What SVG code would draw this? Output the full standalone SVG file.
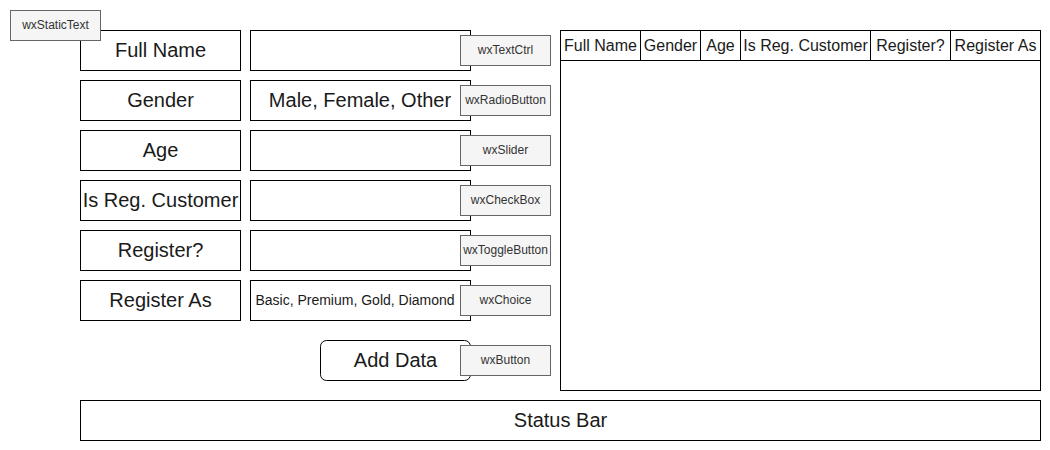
<svg xmlns="http://www.w3.org/2000/svg" width="1050" height="450" viewBox="0 0 1050 450">
<style>
.box{fill:#fff;stroke:#000;stroke-width:1}
.tag{fill:#f5f5f5;stroke:#666;stroke-width:1}
.t20{font-family:"Liberation Sans",Arial,sans-serif;font-size:20px;fill:#1a1a1a;text-anchor:middle;dominant-baseline:central}
.t16{font-family:"Liberation Sans",Arial,sans-serif;font-size:16px;fill:#1a1a1a;text-anchor:middle;dominant-baseline:central}
.t14{font-family:"Liberation Sans",Arial,sans-serif;font-size:14px;fill:#1a1a1a;text-anchor:middle;dominant-baseline:central}
.t12{font-family:"Liberation Sans",Arial,sans-serif;font-size:12px;fill:#333;text-anchor:middle;dominant-baseline:central}
</style>
<rect width="1050" height="450" fill="#fff"/>
<g id="lbl-fullname"><rect class="box" x="80.5" y="30.5" width="160" height="40"/><text class="t20" x="160.5" y="50">Full Name</text></g>
<g id="lbl-gender"><rect class="box" x="80.5" y="80.5" width="160" height="40"/><text class="t20" x="160.5" y="100">Gender</text></g>
<g id="lbl-age"><rect class="box" x="80.5" y="130.5" width="160" height="40"/><text class="t20" x="160.5" y="150">Age</text></g>
<g id="lbl-isreg"><rect class="box" x="80.5" y="180.5" width="160" height="40"/><text class="t20" x="160.5" y="200">Is Reg. Customer</text></g>
<g id="lbl-register"><rect class="box" x="80.5" y="230.5" width="160" height="40"/><text class="t20" x="160.5" y="250">Register?</text></g>
<g id="lbl-registeras"><rect class="box" x="80.5" y="280.5" width="160" height="40"/><text class="t20" x="160.5" y="300">Register As</text></g>
<g id="in-fullname"><rect class="box" x="250.5" y="30.5" width="220" height="40"/></g>
<g id="in-gender"><rect class="box" x="250.5" y="80.5" width="220" height="40"/><text class="t20" x="360" y="100">Male, Female, Other</text></g>
<g id="in-age"><rect class="box" x="250.5" y="130.5" width="220" height="40"/></g>
<g id="in-isreg"><rect class="box" x="250.5" y="180.5" width="220" height="40"/></g>
<g id="in-register"><rect class="box" x="250.5" y="230.5" width="220" height="40"/></g>
<g id="in-registeras"><rect class="box" x="250.5" y="280.5" width="220" height="40"/><text class="t14" x="355" y="300">Basic, Premium, Gold, Diamond</text></g>
<g id="btn-add"><rect class="box" x="320.5" y="340.5" width="150" height="40" rx="6"/><text class="t20" x="395.5" y="360">Add Data</text></g>
<g id="tag-statictext"><rect class="tag" x="10.5" y="10.5" width="90" height="30"/><text class="t12" x="55.5" y="25">wxStaticText</text></g>
<g id="tag-textctrl"><rect class="tag" x="460.5" y="35.5" width="90" height="30"/><text class="t12" x="505.5" y="50">wxTextCtrl</text></g>
<g id="tag-radio"><rect class="tag" x="460.5" y="85.5" width="90" height="30"/><text class="t12" x="505.5" y="100">wxRadioButton</text></g>
<g id="tag-slider"><rect class="tag" x="460.5" y="135.5" width="90" height="30"/><text class="t12" x="505.5" y="150">wxSlider</text></g>
<g id="tag-checkbox"><rect class="tag" x="460.5" y="185.5" width="90" height="30"/><text class="t12" x="505.5" y="200">wxCheckBox</text></g>
<g id="tag-toggle"><rect class="tag" x="460.5" y="235.5" width="90" height="30"/><text class="t12" x="505.5" y="250">wxToggleButton</text></g>
<g id="tag-choice"><rect class="tag" x="460.5" y="285.5" width="90" height="30"/><text class="t12" x="505.5" y="300">wxChoice</text></g>
<g id="tag-button"><rect class="tag" x="460.5" y="345.5" width="90" height="30"/><text class="t12" x="505.5" y="360">wxButton</text></g>
<g id="table">
<rect class="box" x="560.5" y="30.5" width="480" height="360"/>
<path d="M560.5 60.5H1040.5M640.5 30.5V60.5M700.5 30.5V60.5M740.5 30.5V60.5M870.5 30.5V60.5M950.5 30.5V60.5" fill="none" stroke="#000"/>
<text class="t16" x="600.5" y="45">Full Name</text>
<text class="t16" x="670.5" y="45">Gender</text>
<text class="t16" x="720.5" y="45">Age</text>
<text class="t16" x="805.5" y="45">Is Reg. Customer</text>
<text class="t16" x="910.5" y="45">Register?</text>
<text class="t16" x="995.5" y="45">Register As</text>
</g>
<g id="statusbar"><rect class="box" x="80.5" y="400.5" width="960" height="40"/><text class="t20" x="560.5" y="420">Status Bar</text></g>
</svg>
